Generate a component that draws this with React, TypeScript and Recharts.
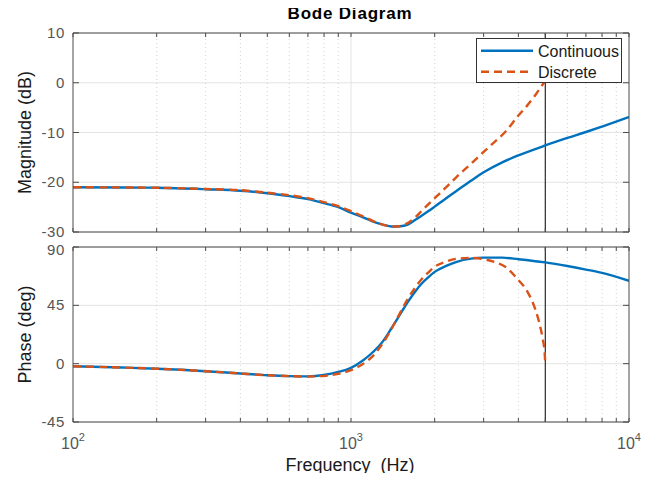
import { CartesianGrid, Line, LineChart, ReferenceLine, XAxis, YAxis } from 'recharts';

// continuous-time response
const freqCont = [100, 150, 200, 300, 400, 500, 600, 700, 800, 900, 1000, 1100, 1200, 1300, 1400, 1500, 1600, 1700, 1800, 1900, 2000, 2200, 2400, 2700, 3000, 3500, 4000, 5000, 6000, 7000, 8000, 10000];
const magCont = [-21.0, -21.05, -21.1, -21.4, -21.7, -22.2, -22.8, -23.4, -24.2, -25.0, -26.1, -27.0, -27.9, -28.5, -28.9, -28.85, -28.5, -27.6, -26.7, -25.8, -24.9, -23.2, -21.7, -19.7, -18.0, -16.0, -14.6, -12.6, -11.1, -9.9, -8.8, -6.9];
const phaseCont = [-2.0, -3.0, -3.9, -5.8, -7.6, -8.9, -9.6, -9.8, -8.7, -6.4, -3.3, 2.2, 9.0, 17.0, 27.5, 37.8, 47.5, 55.5, 62.0, 66.8, 70.8, 75.4, 78.6, 81.0, 81.8, 81.8, 80.6, 78.1, 75.3, 72.6, 70.0, 63.9];

// discrete-time response, up to Nyquist
const freqDisc = [100, 150, 200, 300, 400, 500, 600, 700, 800, 900, 1000, 1100, 1200, 1300, 1400, 1500, 1600, 1700, 1800, 1900, 2000, 2200, 2400, 2700, 3000, 3300, 3600, 4000, 4300, 4600, 4800, 4900, 4970, 5000];
const magDisc = [-21.0, -21.05, -21.1, -21.35, -21.6, -22.1, -22.6, -23.2, -24.0, -24.8, -25.8, -26.8, -27.8, -28.5, -28.9, -28.85, -28.2, -27.1, -25.7, -24.4, -23.2, -21.0, -18.9, -16.3, -13.9, -11.8, -9.8, -6.6, -4.6, -2.5, -1.0, -0.3, 0.1, 0.3];
const phaseDisc = [-2.0, -3.0, -3.9, -5.8, -7.6, -8.9, -9.6, -9.9, -9.4, -7.8, -5.0, -0.5, 6.0, 15.5, 27.0, 39.0, 50.0, 58.5, 65.5, 70.5, 74.7, 78.8, 80.9, 81.6, 80.6, 78.2, 74.5, 64.5, 56.0, 42.0, 28.0, 18.5, 9.0, 0];

const nyquist = 5000;
const decades = [100, 1000, 10000];
const minorFreqs = [200, 300, 400, 500, 600, 700, 800, 900, 2000, 3000, 4000, 5000, 6000, 7000, 8000, 9000];
const xTicks = [...decades, ...minorFreqs].sort((a, b) => a - b);
const magTicks = [-30, -20, -10, 0, 10];
const phaseTicks = [-45, 0, 45, 90];

const series = [
  { name: 'Continuous', color: '#0072BD', dash: undefined as string | undefined },
  { name: 'Discrete', color: '#D95319', dash: '8 5' },
];

const contRows = freqCont.map((f, i) => ({ f, mag: magCont[i], phase: phaseCont[i] }));
const discRows = freqDisc.map((f, i) => ({ f, mag: magDisc[i], phase: phaseDisc[i] }));

const W = 662;
const AXIS = '#4a4a4a';
const TICK = '#555';
const LABEL = '#1a1a1a';
const GRID = '#e4e4e4';
const MINOR = '#d2d2d2';
const FONT = '"Liberation Sans", Arial, Helvetica, sans-serif';

function XTick({ x, y, payload, dir, showLabel }: any) {
  const v = payload.value;
  const major = decades.includes(v);
  return (
    <g>
      <line x1={x} x2={x} y1={y} y2={y + dir * 4} stroke={AXIS} />
      {showLabel && major && (
        <text x={x} y={y + 27} textAnchor="middle" fontSize={16} fill={TICK} fontFamily={FONT}>
          <tspan>10</tspan>
          <tspan dy={-8} fontSize={11}>{Math.round(Math.log10(v))}</tspan>
        </text>
      )}
    </g>
  );
}

function YTick({ x, y, payload, dir, showLabel, topValue, topNudge }: any) {
  const dy = payload.value === topValue ? topNudge : 0;
  return (
    <g>
      <line x1={x} x2={x + dir * 6} y1={y} y2={y} stroke={AXIS} />
      {showLabel && (
        <text x={x - 8} y={y + 5 + dy} textAnchor="end" fontSize={15} letterSpacing={0.6} fill={TICK} fontFamily={FONT}>
          {payload.value}
        </text>
      )}
    </g>
  );
}

function Panel({ height, top, bottom, domain, yTicks, field, xLabels, topNudge = 0 }: any) {
  const xProps = {
    dataKey: 'f', type: 'number' as const, scale: 'log' as const, domain: [100, 10000], ticks: xTicks,
    interval: 0, height: 1, tickSize: 0, tickMargin: 0, tickLine: false, axisLine: { stroke: AXIS },
    allowDataOverflow: true,
  };
  const yProps = {
    type: 'number' as const, domain, ticks: yTicks, interval: 0, tickSize: 0, tickMargin: 0,
    tickLine: false, axisLine: { stroke: AXIS }, allowDataOverflow: true,
  };
  return (
    <LineChart width={W} height={height} margin={{ top: top - 1, right: 32, bottom: bottom - 1, left: 0 }}>
      <CartesianGrid vertical={false} stroke={GRID} />
      {minorFreqs.map((f) => (
        <ReferenceLine key={f} x={f} stroke={MINOR} strokeDasharray="1 3" />
      ))}
      <ReferenceLine x={1000} stroke={GRID} />
      <XAxis {...xProps} tick={(p: any) => <XTick {...p} dir={-1} showLabel={xLabels} />} />
      <XAxis {...xProps} xAxisId="top" orientation="top" tick={(p: any) => <XTick {...p} dir={1} showLabel={false} />} />
      <YAxis {...yProps} width={73} tick={(p: any) => <YTick {...p} dir={1} showLabel topValue={domain[1]} topNudge={topNudge} />} />
      <YAxis {...yProps} yAxisId="r" orientation="right" width={1} tick={(p: any) => <YTick {...p} dir={-1} showLabel={false} />} />
      <ReferenceLine x={nyquist} stroke="#2a2a2a" strokeWidth={1.2} />
      <Line data={contRows} dataKey={field} type="monotone" stroke={series[0].color} strokeWidth={2.4} dot={false} isAnimationActive={false} />
      <Line data={discRows} dataKey={field} type="monotone" stroke={series[1].color} strokeWidth={2.4} strokeDasharray={series[1].dash} dot={false} isAnimationActive={false} />
    </LineChart>
  );
}

export default function App() {
  return (
    <div style={{ position: 'relative', width: W, height: 481, background: '#fff', margin: -8, fontFamily: FONT }}>
      <div style={{ position: 'absolute', left: 0, top: 0 }}>
        <Panel height={240} top={33} bottom={8} domain={[-30, 10]} yTicks={magTicks} field="mag" xLabels={false} />
      </div>
      <div style={{ position: 'absolute', left: 0, top: 230 }}>
        <Panel height={251} top={17} bottom={59} domain={[-45, 90]} yTicks={phaseTicks} field="phase" xLabels topNudge={3} />
      </div>
      <svg width={W} height={481} style={{ position: 'absolute', left: 0, top: 0, pointerEvents: 'none' }}>
        <text x={350} y={19} textAnchor="middle" fontSize={17} letterSpacing={0.8} fontWeight="bold" fill="#000" fontFamily={FONT}>Bode Diagram</text>
        <text transform="translate(31,132.5) rotate(-90)" textAnchor="middle" fontSize={18} fill={LABEL} fontFamily={FONT}>Magnitude (dB)</text>
        <text transform="translate(31,334.5) rotate(-90)" textAnchor="middle" fontSize={18} fill={LABEL} fontFamily={FONT}>Phase (deg)</text>
        <text x={350} y={471} textAnchor="middle" fontSize={18} fill={LABEL} fontFamily={FONT} style={{ whiteSpace: 'pre' }}>Frequency  (Hz)</text>
        <rect x={476.5} y={38.5} width={145} height={44} fill="#fff" stroke="#333" />
        {series.map((s, i) => (
          <g key={s.name}>
            <line x1={481} x2={533} y1={50.7 + i * 21} y2={50.7 + i * 21} stroke={s.color} strokeWidth={2.4} strokeDasharray={s.dash} />
            <text x={538} y={56.5 + i * 21} fontSize={16} fill={LABEL} fontFamily={FONT}>{s.name}</text>
          </g>
        ))}
      </svg>
    </div>
  );
}
